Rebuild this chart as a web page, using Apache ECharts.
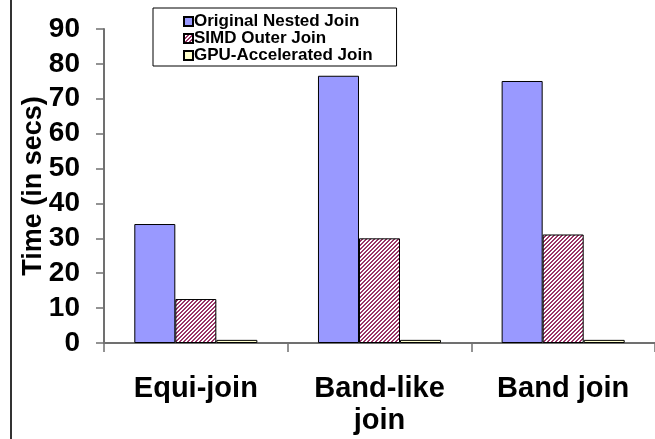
<!DOCTYPE html>
<html>
<head>
<meta charset="utf-8">
<script src="https://cdn.jsdelivr.net/npm/echarts@6/dist/echarts.min.js"></script>
<style>html,body{margin:0;padding:0;background:#fff}#c{width:655px;height:439px}</style>
</head>
<body>
<div id="c"></div>
<script>
const categories = ['Equi-join', 'Band-like\njoin', 'Band join'];
const seriesNames = ['Original Nested Join', 'SIMD Outer Join', 'GPU-Accelerated Join'];
const originalNested = [34.1, 76.6, 75.1];
const simdOuter = [12.6, 30.0, 31.1];
const gpuAccel = [0.9, 0.9, 0.9];
const yTicks = [0, 10, 20, 30, 40, 50, 60, 70, 80, 90];

function hatch() {
  const c = document.createElement('canvas');
  c.width = 4; c.height = 4;
  const ctx = c.getContext('2d');
  ctx.fillStyle = '#ffffff';
  ctx.fillRect(0, 0, 4, 4);
  ctx.fillStyle = '#993366';
  for (let y = 0; y < 4; y++) for (let x = 0; x < 4; x++) {
    if ((x + y) % 4 < 2) ctx.fillRect(x, y, 1, 1);
  }
  return c;
}

const chart = echarts.init(document.getElementById('c'), null, {renderer: 'canvas'});
const font = 'Arial, "Liberation Sans", sans-serif';
const mk = (name, data, color) => ({
  name, type: 'bar', data, barGap: '0%', barCategoryGap: '33%',
  itemStyle: {color, borderColor: '#000', borderWidth: 1},
  emphasis: {disabled: true}
});
chart.setOption({
  animation: false,
  grid: {left: 104, top: 29, bottom: 96, right: -12, containLabel: false},
  legend: {
    orient: 'vertical', left: 153, top: 8,
    padding: [5, 24, 2, 30], itemGap: 0,
    borderColor: '#000', borderWidth: 1,
    itemWidth: 9, itemHeight: 9, icon: 'rect',
    textStyle: {fontFamily: font, fontWeight: 'bold', fontSize: 17, lineHeight: 16, height: 16, color: '#000', padding: [0,0,0,-4]},
    data: seriesNames
  },
  xAxis: {
    type: 'category', data: categories,
    axisLine: {lineStyle: {color: '#707070', width: 2}},
    axisTick: {show: true, length: 9, lineStyle: {color: '#707070', width: 1.5}},
    axisLabel: {fontFamily: font, fontWeight: 'bold', fontSize: 29, color: '#000', margin: 30, lineHeight: 32, interval: 0}
  },
  yAxis: {
    type: 'value', min: yTicks[0], max: yTicks[yTicks.length - 1], interval: 10,
    name: 'Time (in secs)', nameLocation: 'middle', nameGap: 57, nameMoveOverlap: false,
    nameTextStyle: {fontFamily: font, fontWeight: 'bold', fontSize: 27, color: '#000'},
    axisLine: {show: true, lineStyle: {color: '#707070', width: 2}},
    axisTick: {show: true, length: 8, lineStyle: {color: '#707070', width: 1.5}},
    splitLine: {show: false},
    axisLabel: {fontFamily: font, fontWeight: 'bold', fontSize: 28, color: '#000', margin: 24}
  },
  graphic: [{type: 'rect', left: 10, top: 0, shape: {width: 2, height: 439}, style: {fill: '#333'}, silent: true}],
  series: [
    mk(seriesNames[0], originalNested, '#9999FF'),
    mk(seriesNames[1], simdOuter, {image: hatch(), repeat: 'repeat'}),
    mk(seriesNames[2], gpuAccel, '#FFFFCC')
  ]
});
</script>
</body>
</html>
